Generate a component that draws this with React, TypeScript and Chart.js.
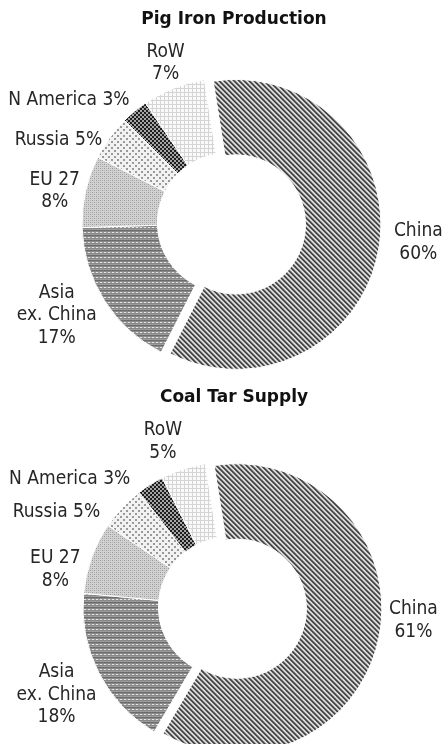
import React, { useEffect, useRef } from 'react';
import { Chart, registerables } from 'chart.js';

Chart.register(...registerables);

// ---- data ----
const categories = ['China', 'Asia ex. China', 'EU 27', 'Russia', 'N America', 'RoW'];
const labelLines = [['China'], ['Asia', 'ex. China'], ['EU 27'], ['Russia'], ['N America'], ['RoW']];
const valueInline = [false, false, false, true, true, false];
const pigIronShares = [60, 17, 8, 5, 3, 7];
const coalTarShares = [61, 18, 8, 5, 3, 5];
const titles = ['Pig Iron Production', 'Coal Tar Supply'];

const LABEL_FONT = '19px "DejaVu Sans Condensed", "DejaVu Sans", sans-serif';
const TITLE_FONT = 'bold 17px "DejaVu Sans", sans-serif';

type Px = (x: number, y: number) => string;

function makePattern(w: number, h: number, fn: Px): CanvasPattern | string {
  const c = document.createElement('canvas');
  c.width = w;
  c.height = h;
  const ctx = c.getContext('2d');
  if (!ctx) return '#999';
  for (let y = 0; y < h; y++) {
    for (let x = 0; x < w; x++) {
      ctx.fillStyle = fn(x, y);
      ctx.fillRect(x, y, 1, 1);
    }
  }
  return ctx.createPattern(c, 'repeat') || '#999';
}

function buildPatterns() {
  const china = makePattern(5, 5, (x, y) => {
    const k = (((x - y) % 5) + 5) % 5;
    return k < 2 ? '#363636' : k === 2 ? '#8a8a8a' : '#efefef';
  });
  const asia = makePattern(4, 5, (x, y) => {
    if (y === 0) return '#6c6c6c';
    if (y === 1) return '#888888';
    if (y === 2) return x < 2 ? '#e6e6e6' : '#a0a0a0';
    if (y === 3) return '#888888';
    return '#9c9c9c';
  });
  const eu = makePattern(4, 4, (x, y) => {
    if ((x === 0 && y === 0) || (x === 2 && y === 2)) return '#9a9a9a';
    if ((x === 0 && y === 2) || (x === 2 && y === 0)) return '#b4b4b4';
    return '#d2d2d2';
  });
  const russia = makePattern(6, 6, (x, y) => {
    const a = x < 2 && y < 2;
    const b = x >= 3 && x < 5 && y >= 3 && y < 5;
    return a || b ? '#9a9a9a' : '#f2f2f2';
  });
  const nam = makePattern(4, 4, (x, y) => {
    const d = (x < 2 && y < 2) || (x >= 2 && y >= 2);
    return d ? '#1e1e1e' : '#a4a4a4';
  });
  const row = makePattern(4, 4, (x, y) => (x === 0 || y === 0 ? '#d4d4d4' : '#fafafa'));
  return [china, asia, eu, russia, nam, row];
}

// Pulls slices outward along their mid-angle without growing their radius.
const explodeSlices = {
  id: 'explodeSlices',
  beforeDatasetDraw(_chart: any, args: any, opts: any) {
    const meta = args.meta;
    meta.data.forEach((arc: any, i: number) => {
      const d = (opts.distances && opts.distances[i]) || 0;
      if (!d || arc.__exploded) return;
      const orig = arc.draw;
      arc.draw = function (ctx: CanvasRenderingContext2D) {
        const half = (this.startAngle + this.endAngle) / 2;
        ctx.save();
        ctx.translate(Math.cos(half) * d, Math.sin(half) * d);
        orig.call(this, ctx);
        ctx.restore();
      };
      arc.__exploded = true;
    });
  },
};

const outsideLabels = {
  id: 'outsideLabels',
  afterDatasetsDraw(chart: any, _args: any, opts: any) {
    const { ctx } = chart;
    const meta = chart.getDatasetMeta(0);
    const data = chart.data.datasets[0].data as number[];
    ctx.save();
    ctx.fillStyle = '#262626';
    ctx.textAlign = 'center';
    ctx.textBaseline = 'middle';
    ctx.font = LABEL_FONT;
    meta.data.forEach((arc: any, i: number) => {
      const p = arc.getProps(['startAngle', 'endAngle', 'outerRadius', 'x', 'y'], true);
      const mid = (p.startAngle + p.endAngle) / 2;
      const r = p.outerRadius + opts.distance;
      const n = opts.nudges[i] || [0, 0];
      const cx = p.x + Math.cos(mid) * r + n[0];
      const cy = p.y + Math.sin(mid) * r + n[1];
      const pct = `${data[i]}%`;
      const base = labelLines[i].slice();
      let lines: string[];
      if (valueInline[i]) {
        base[base.length - 1] = `${base[base.length - 1]} ${pct}`;
        lines = base;
      } else {
        lines = [...base, pct];
      }
      const lh = opts.lineHeight;
      lines.forEach((t, k) => {
        ctx.fillText(t, cx, cy + (k - (lines.length - 1) / 2) * lh);
      });
    });
    ctx.font = TITLE_FONT;
    ctx.fillStyle = '#111';
    ctx.fillText(opts.title, opts.titleX, opts.titleY);
    ctx.restore();
  },
};

type DonutProps = {
  values: number[];
  title: string;
  nudges: number[][];
  padding: { left: number; right: number; top: number; bottom: number };
  titleY: number;
};

function Donut({ values, title, nudges, padding, titleY }: DonutProps) {
  const ref = useRef<HTMLCanvasElement | null>(null);
  useEffect(() => {
    if (!ref.current) return;
    const patterns = buildPatterns();
    const chart = new Chart(ref.current, {
      type: 'doughnut',
      data: {
        labels: categories,
        datasets: [
          {
            data: values,
            backgroundColor: patterns as any,
            borderColor: '#ffffff',
            borderWidth: 1,
            clip: false as any,
          },
        ],
      },
      options: {
        responsive: false,
        animation: false,
        rotation: -9,
        radius: 145,
        cutout: '48%',
        layout: { padding },
        plugins: {
          legend: { display: false },
          tooltip: { enabled: false },
          title: { display: false },
          explodeSlices: { distances: [9, 0, 0, 0, 0, 0] },
          outsideLabels: {
            distance: 30,
            nudges,
            lineHeight: 22.5,
            title,
            titleX: 234,
            titleY,
          },
        } as any,
      },
      plugins: [explodeSlices, outsideLabels],
    });
    return () => chart.destroy();
  }, []);
  return <canvas ref={ref} width={443} height={372} style={{ display: 'block', width: 443, height: 372 }} />;
}

export default function App() {
  return (
    <div
      style={{
        position: 'absolute',
        top: 0,
        left: 0,
        width: 443,
        height: 744,
        overflow: 'hidden',
        background: '#fff',
      }}
    >
      <Donut
        values={pigIronShares}
        title={titles[0]}
        nudges={[[18.5, -8], [-22.5, -1.5], [-1.5, 6], [-27, 19.5], [-46.5, 12], [3, 3]]}
        padding={{ left: 11, right: 0, top: 74, bottom: 0 }}
        titleY={20}
      />
      <Donut
        values={coalTarShares}
        title={titles[1]}
        nudges={[[13.5, -19], [-15.5, 8.5], [-8, 22], [-44, 25], [-64.5, 19.5], [-11, 1]]}
        padding={{ left: 13, right: 0, top: 98, bottom: 0 }}
        titleY={26}
      />
    </div>
  );
}
